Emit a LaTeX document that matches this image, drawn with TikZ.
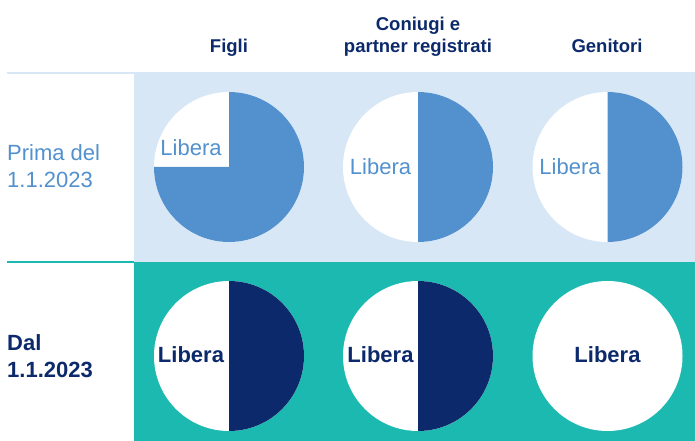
\documentclass[tikz,border=0pt]{standalone}
\usepackage{fontspec}
\setmainfont{Liberation Sans}
\definecolor{panelblue}{HTML}{D8E7F6}
\definecolor{pieblue}{HTML}{5291CD}
\definecolor{tealc}{HTML}{1BB9B0}
\definecolor{navy}{HTML}{0C2A6B}
\begin{document}
\begin{tikzpicture}[x=1pt,y=1pt,
  head/.style={inner sep=0pt, anchor=base, text=navy, font=\bfseries\fontsize{18.5}{21.7}\selectfont, align=center},
  rowlabel/.style={inner sep=0pt, anchor=base west, align=left},
  libtop/.style={inner sep=0pt, anchor=base, text=pieblue, font=\fontsize{22}{26}\selectfont},
  libbot/.style={inner sep=0pt, anchor=base, text=navy, font=\bfseries\fontsize{22}{26}\selectfont},
  disc/.style={fill=white},
]
\useasboundingbox (0,0) rectangle (695,441);
\fill[white] (0,0) rectangle (695,441);
% panels
\fill[panelblue] (134,179) rectangle (695,369);
\fill[tealc] (134,0) rectangle (695,179);
\fill[panelblue] (7,366.5) rectangle (134,369);
\fill[tealc] (7,177.5) rectangle (134,179.5);
% headings
\node[head] (h1) at (229,388.5) {Figli};
\node[head] (h2) at (418,388.5) {Coniugi e\\partner registrati};
\node[head] (h3) at (607,388.5) {Genitori};
% row labels (base anchor = last line)
\node[rowlabel, text=pieblue, font=\fontsize{22}{27.3}\selectfont] (r1) at (7,253) {Prima del\\1.1.2023};
\node[rowlabel, text=navy, font=\bfseries\fontsize{22}{27.5}\selectfont] (r2) at (7,63.3) {Dal\\1.1.2023};
% top row circles
\fill[disc] (229,274) circle[radius=75];
\fill[pieblue] (229,274) -- (229,349) arc[start angle=90,end angle=-180,radius=75] -- cycle;
\fill[disc] (418,274) circle[radius=75];
\fill[pieblue] (418,349) arc[start angle=90,end angle=-90,radius=75] -- cycle;
\fill[disc] (607.5,274) circle[radius=75];
\fill[pieblue] (607.5,349) arc[start angle=90,end angle=-90,radius=75] -- cycle;
% bottom row circles
\fill[disc] (229,85) circle[radius=75];
\fill[navy] (229,160) arc[start angle=90,end angle=-90,radius=75] -- cycle;
\fill[disc] (418,85) circle[radius=75];
\fill[navy] (418,160) arc[start angle=90,end angle=-90,radius=75] -- cycle;
\fill[disc] (607.5,85) circle[radius=75];
% labels
\node[libtop] (l1) at (191,285.3) {Libera};
\node[libtop] (l2) at (380.5,266) {Libera};
\node[libtop] (l3) at (570,266) {Libera};
\node[libbot] (l4) at (191,78) {Libera};
\node[libbot] (l5) at (380.5,78) {Libera};
\node[libbot] (l6) at (607.5,78) {Libera};
\end{tikzpicture}
\end{document}
